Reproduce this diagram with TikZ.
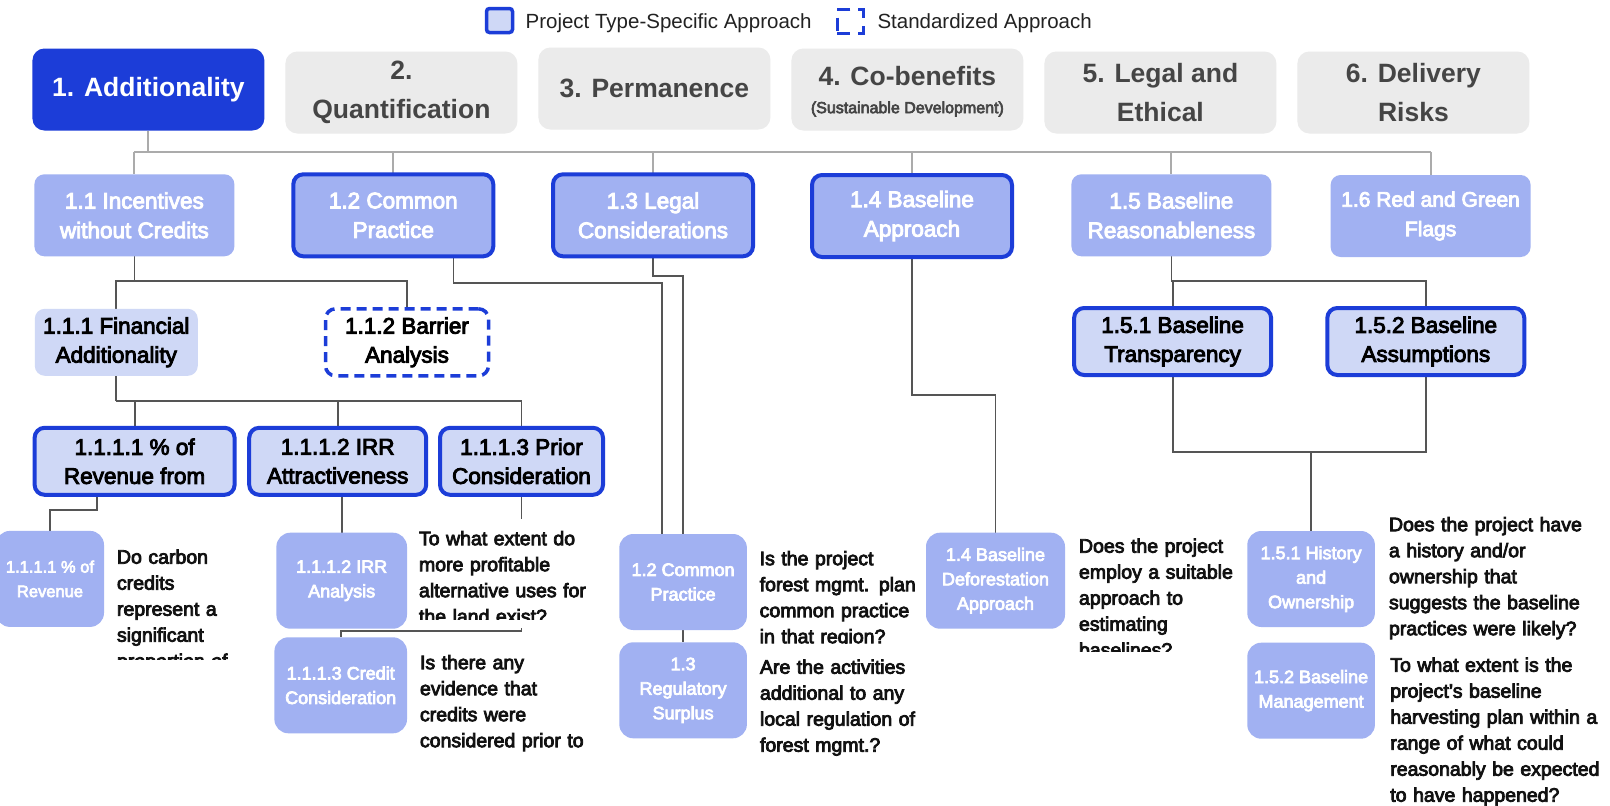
\documentclass[tikz,border=0pt]{standalone}
\usepackage{fontspec}
\setmainfont{Liberation Sans}
\newfontfamily\medf[FakeBold=4]{Liberation Sans}
\usetikzlibrary{calc}
\pgfdeclarelayer{back}
\pgfdeclarelayer{bg}
\pgfsetlayers{back,bg,main}
\definecolor{hdrblue}{HTML}{1C3DD8}
\definecolor{bdrblue}{HTML}{1C3DD8}
\definecolor{midfill}{HTML}{A1B1F2}
\definecolor{lightfill}{HTML}{CFD8F6}
\definecolor{hdrgray}{HTML}{EBEBEB}
\definecolor{hdrtext}{HTML}{454545}
\definecolor{linegray}{HTML}{ABABAB}
\definecolor{linedark}{HTML}{555555}
\definecolor{qtext}{HTML}{111111}
\definecolor{legtext}{HTML}{222222}
\tikzset{
  every node/.style={inner sep=0pt, outer sep=0pt},
  hdr/.style={rectangle, rounded corners=12pt, minimum width=232pt, minimum height=82pt, fill=hdrgray, text=hdrtext, align=center, font=\bfseries\fontsize{26.5}{39}\selectfont},
  lvone/.style={rectangle, rounded corners=10pt, minimum width=200pt, minimum height=82pt, fill=midfill, text=white, align=center, font=\medf\fontsize{22.5}{29.5}\selectfont},
  bord/.style={draw=bdrblue, line width=4pt},
  lvtwo/.style={rectangle, rounded corners=10pt, minimum height=67pt, fill=lightfill, text=black, align=center, font=\medf\fontsize{22.5}{29}\selectfont},
  dashbox/.style={draw=bdrblue, line width=3.5pt, dash pattern=on 10pt off 6pt, fill=white},
  leaf/.style={rectangle, rounded corners=14pt, minimum height=96pt, fill=midfill, text=white, align=center, font=\medf\fontsize{18}{24.5}\selectfont},
  quest/.style={anchor=north west, text width=260pt, align=left, text=qtext, font=\medf\fontsize{19.5}{26}\selectfont},
  busline/.style={draw=linegray, line width=2pt},
  conn/.style={draw=linedark, line width=1.8pt},
  legtxt/.style={anchor=west, text=legtext, font=\fontsize{20.5}{24}\selectfont},
}
\begin{document}
\begin{tikzpicture}[x=1pt,y=-1pt]
\useasboundingbox (0,0) rectangle (1610,806);
\begin{pgfonlayer}{back}
\fill[white] (0,0) rectangle (1610,806);
\end{pgfonlayer}

% legend
\node[draw=bdrblue, line width=3.5pt, fill=lightfill, rounded corners=3pt, minimum width=26pt, minimum height=24pt] (legA) at (499.5,20.5) {};
\node[legtxt] (legAt) at (525.6,23.5) {Project Type-Specific Approach};
\node[draw=bdrblue, line width=3.5pt, dash pattern=on 13pt off 8pt, minimum width=26pt, minimum height=24pt] (legB) at (850.3,21.5) {};
\node[legtxt] (legBt) at (877.5,23.5) {Standardized Approach};

% header row
\node[hdr, fill=hdrblue, text=white] (hdr1) at (148.4,89.5) {1. Additionality};
\node[hdr] (hdr2) at (401.4,92.5) {2.\\Quantification};
\node[hdr] (hdr3) at (654.4,88.5) {3. Permanence};
\node[hdr] (hdr4) at (907.4,89.5) {};
\node[text=hdrtext, font=\bfseries\fontsize{26.5}{37}\selectfont] (hdr4a) at (907.4,76) {4. Co-benefits};
\node[text=hdrtext, font=\medf\fontsize{16}{20}\selectfont] (hdr4b) at (907.4,109) {(Sustainable Development)};
\node[hdr] (hdr5) at (1160.4,92.5) {5. Legal and\\Ethical};
\node[hdr] (hdr6) at (1413.4,92.5) {6. Delivery\\Risks};

% level 1
\node[lvone] (l11) at (134.4,215.3) {1.1 Incentives\\without Credits};
\node[lvone, bord] (l12) at (393.3,215.3) {1.2 Common\\Practice};
\node[lvone, bord] (l13) at (653,215.3) {1.3 Legal\\Considerations};
\node[lvone, bord] (l14) at (912,216) {1.4 Baseline\\Approach};
\node[lvone] (l15) at (1171.4,215.3) {1.5 Baseline\\Reasonableness};
\node[lvone, font=\medf\fontsize{21}{29.5}\selectfont] (l16) at (1430.6,216) {1.6 Red and Green\\Flags};

% level 2
\node[lvtwo, minimum width=163pt] (l111) at (116.3,342.3) {1.1.1 Financial\\Additionality};
\node[lvtwo, dashbox, minimum width=163pt] (l112) at (407,342.3) {1.1.2 Barrier\\Analysis};
\node[lvtwo, bord, minimum width=197pt] (l151) at (1172.6,341.5) {1.5.1 Baseline\\Transparency};
\node[lvtwo, bord, minimum width=197pt] (l152) at (1425.8,341.5) {1.5.2 Baseline\\Assumptions};

% level 3
\node[lvtwo, bord, minimum width=200pt] (l1111) at (134.6,461.3) {1.1.1.1 \% of\\Revenue from};
\node[lvtwo, bord, minimum width=177pt] (l1112) at (337.7,461.3) {1.1.1.2 IRR\\Attractiveness};
\node[lvtwo, bord, minimum width=163pt] (l1113) at (521.5,461.3) {1.1.1.3 Prior\\Consideration};

% leaves
\node[leaf, minimum width=108pt, font=\medf\fontsize{16.5}{24.5}\selectfont] (b1111) at (50,578.9) {1.1.1.1 \% of\\Revenue};
\node[leaf, minimum width=130.6pt] (b1112) at (341.7,580.7) {1.1.1.2 IRR\\Analysis};
\node[leaf, minimum width=132.6pt] (b1113) at (340.7,685.3) {1.1.1.3 Credit\\Consideration};
\node[leaf, minimum width=127.6pt] (b12) at (683.1,582) {1.2 Common\\Practice};
\node[leaf, minimum width=127.6pt] (b13) at (683.1,690.3) {1.3\\Regulatory\\Surplus};
\node[leaf, minimum width=139pt] (b14) at (995.5,580.7) {1.4 Baseline\\Deforestation\\Approach};
\node[leaf, minimum width=127.6pt] (b151) at (1311.1,579) {1.5.1 History\\and\\Ownership};
\node[leaf, minimum width=127.6pt] (b152) at (1311.1,690.7) {1.5.2 Baseline\\Management};

% questions
\begin{scope}
  \clip (105,500) rectangle (300,659.5);
  \node[quest] (q1) at (117,545.5) {\strut Do carbon\\credits\\represent a\\significant\\proportion of};
\end{scope}
\fill[white] (416,519) rectangle (594,627.7);
\begin{scope}
  \clip (410,500) rectangle (600,619);
  \node[quest] (q2) at (419,527) {\strut To what extent do\\more profitable\\alternative uses for\\the land exist?};
\end{scope}
\node[quest] (q3) at (420,651) {\strut Is there any\\evidence that\\credits were\\considered prior to};
\begin{scope}
  \clip (750,500) rectangle (930,643);
  \node[quest] (q4) at (759.7,547) {\strut Is the project\\forest mgmt. plan\\common practice\\in that region?};
\end{scope}
\node[quest] (q5) at (760,655.5) {\strut Are the activities\\additional to any\\local regulation of\\forest mgmt.?};
\begin{scope}
  \clip (1070,500) rectangle (1245,651);
  \node[quest] (q6) at (1079,534.5) {\strut Does the project\\employ a suitable\\approach to\\estimating\\baselines?};
\end{scope}
\node[quest] (q7) at (1389,513) {\strut Does the project have\\a history and/or\\ownership that\\suggests the baseline\\practices were likely?};
\node[quest] (q8) at (1390.3,653.5) {\strut To what extent is the\\project’s baseline\\harvesting plan within a\\range of what could\\reasonably be expected\\to have happened?};

% connectors
\begin{pgfonlayer}{bg}
  \draw[busline] (hdr1.south) -- ++(0,21.7) coordinate (bus);
  \draw[busline] (l11.north |- bus) -- (l16.north |- bus);
  \foreach \n in {l11,l12,l13,l14,l15,l16} {\draw[busline] (\n.north |- bus) -- (\n.north);}
  \draw[conn] (l11.south) -- ++(0,25) coordinate (j11);
  \draw[conn] (l111.north) |- (j11);
  \draw[conn] (l112.north) |- (j11);
  \draw[conn] (l15.south) -- ++(0,25) coordinate (j15a);
  \draw[conn] (l151.north) |- (j15a);
  \draw[conn] (l152.north) |- (j15a);
  \draw[conn] (l111.south) -- ++(0,25) coordinate (j111);
  \draw[conn] (l1111.north) |- (j111);
  \draw[conn] (l1112.north) |- (j111);
  \draw[conn] (l1113.north) |- (j111);
  \draw[conn] ($(l1111.south)+(-37.7,0)$) -- ++(0,15) -| (b1111.north);
  \draw[conn] (b1112.north) -- (b1112.north |- l1112.south);
  \draw[conn] (l1113.south) -- ++(0,136.3) -| (b1113.north);
  \draw[conn] ($(l12.south)+(60.2,0)$) -- ++(0,27) -| ($(b12.north)+(-21.3,0)$);
  \draw[conn] (l13.south) -- ++(0,19.4) -| (b13.north);
  \draw[conn] (l14.south) -- ++(0,137.7) -| (b14.north);
  \coordinate (j15) at (1311.1,452.3);
  \draw[conn] (l151.south) |- (j15);
  \draw[conn] (l152.south) |- (j15);
  \draw[conn] (j15) -- (b151.north);
\end{pgfonlayer}
\end{tikzpicture}
\end{document}
